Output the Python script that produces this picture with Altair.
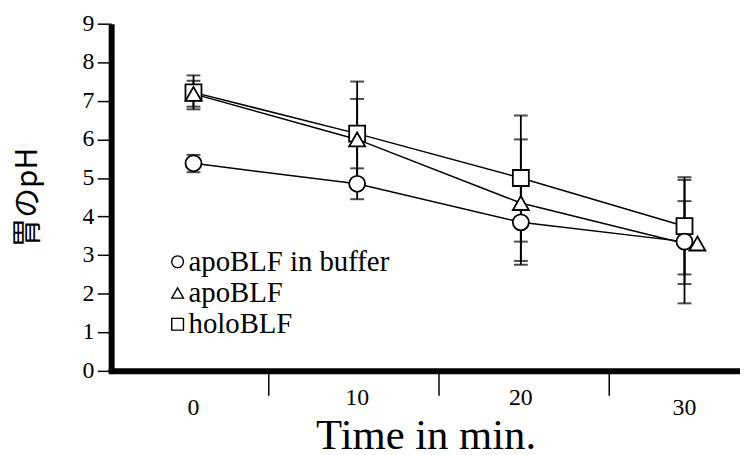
import altair as alt
import pandas as pd

times = [0, 10, 20, 30]
time_labels = ["0", "10", "20", "30"]
series_names = ["apoBLF in buffer", "apoBLF", "holoBLF"]
series_shapes = ["circle", "triangle-up", "square"]

buffer_ph = [5.38, 4.85, 3.85, 3.35]
buffer_lo = [5.15, 4.45, 2.85, 1.75]
buffer_hi = [5.60, 5.25, 4.90, 4.95]

apo_ph = [7.18, 6.00, 4.35, 3.30]
apo_lo = [6.85, 4.95, 2.75, 2.25]
apo_hi = [7.52, 7.05, 6.00, 4.40]

holo_ph = [7.22, 6.15, 5.00, 3.75]
holo_lo = [6.78, 4.80, 3.35, 2.50]
holo_hi = [7.66, 7.50, 6.62, 5.02]

boundary_ticks = [4.6, 15.0, 25.4]
y_ticks = [0, 1, 2, 3, 4, 5, 6, 7, 8, 9]

rows = []
# holoBLF drawn first, then apoBLF, then buffer (draw order)
for name, shape, ph, lo, hi in reversed(list(zip(series_names, series_shapes,
                                   [buffer_ph, apo_ph, holo_ph],
                                   [buffer_lo, apo_lo, holo_lo],
                                   [buffer_hi, apo_hi, holo_hi]))):
    for t, v, l, h in zip(times, ph, lo, hi):
        rows.append({"series": name, "shape": shape, "time": t,
                     "ph": v, "lo": l, "hi": h})
df = pd.DataFrame(rows)
bdf = pd.DataFrame({"b": boundary_ticks})
tdf = pd.DataFrame({"time": times, "label": time_labels})
ydf = pd.DataFrame({"v": y_ticks, "label": [str(v) for v in y_ticks]})
legdf = pd.DataFrame({"series": series_names, "shape": series_shapes,
                      "row": list(range(len(series_names)))})

SERIF = "Liberation Serif"

xscale = alt.Scale(domain=[-5.03, 33.39], nice=False, zero=False)
yscale = alt.Scale(domain=[0, 9], nice=False)

xaxis = alt.Axis(values=times, tickSize=0, grid=False, labels=False,
                 domainColor="black", domainWidth=6, domainCap="square",
                 title="Time in min.", titleFont=SERIF, titleFontSize=43,
                 titleFontWeight="normal", titleColor="black",
                 titleBaseline="alphabetic", titleY=78)
yaxis = alt.Axis(values=y_ticks, tickSize=14, tickWidth=1.5,
                 tickColor="black", grid=False, labels=False,
                 domainColor="black", domainWidth=6,
                 title="胃のpH", titleFont="Noto Sans CJK JP",
                 titleFontSize=30, titleFontWeight="normal",
                 titleColor="black", titleAngle=270,
                 titleX=-84, titleY=175,
                 titleAlign="center", titleBaseline="middle")

X = alt.X("time:Q", scale=xscale, axis=xaxis)
Y = alt.Y("ph:Q", scale=yscale, axis=yaxis)

base = alt.Chart(df)

lines = base.mark_line(color="black", strokeWidth=1.5).encode(
    x=X, y=Y, detail="series:N")

bars = base.mark_rule(color="black", strokeWidth=1.8).encode(
    x=X, y=alt.Y("lo:Q", scale=yscale, axis=yaxis), y2="hi:Q")

caps_lo = base.mark_tick(color="black", orient="horizontal", size=14,
                         thickness=2).encode(
    x=X, y=alt.Y("lo:Q", scale=yscale, axis=yaxis))
caps_hi = base.mark_tick(color="black", orient="horizontal", size=14,
                         thickness=2).encode(
    x=X, y=alt.Y("hi:Q", scale=yscale, axis=yaxis))

shape_enc = alt.Shape("shape:N", scale=None, legend=None)

points = base.mark_point(filled=True, fill="white", stroke="black",
                         strokeWidth=1.8, size=260, opacity=1).encode(
    x=X, y=Y, shape=shape_enc
).transform_filter(
    "!(datum.series == 'apoBLF' && datum.time == 30)")

tri_last = base.mark_point(filled=True, fill="white", stroke="black",
                           strokeWidth=1.8, size=260, opacity=1,
                           shape="triangle-up", xOffset=13).encode(
    x=X, y=Y
).transform_filter(
    "datum.series == 'apoBLF' && datum.time == 30")

bticks = alt.Chart(bdf).mark_rule(color="black", strokeWidth=1.5).encode(
    x=alt.X("b:Q", scale=xscale, axis=xaxis),
    y=alt.value(353), y2=alt.value(375))

# x tick labels: outer labels sit lower, inner ones higher (as in the original)
tl = alt.Chart(tdf)
tl_outer = tl.mark_text(font=SERIF, fontSize=24, color="black",
                        baseline="middle", align="center").encode(
    x=alt.X("time:Q", scale=xscale, axis=xaxis), y=alt.value(388),
    text="label:N").transform_filter("datum.time == 0 || datum.time == 30")
tl_inner = tl.mark_text(font=SERIF, fontSize=24, color="black",
                        baseline="middle", align="center").encode(
    x=alt.X("time:Q", scale=xscale, axis=xaxis), y=alt.value(377),
    text="label:N").transform_filter("datum.time == 10 || datum.time == 20")

# y tick labels (serif)
yl = alt.Chart(ydf).mark_text(font=SERIF, fontSize=24, color="black",
                              baseline="middle", align="right").encode(
    x=alt.value(-17), y=alt.Y("v:Q", scale=yscale, axis=yaxis),
    text="label:N")

main = alt.layer(lines, bars, caps_lo, caps_hi, points, tri_last, bticks,
                 tl_outer, tl_inner, yl)

# manual legend
leg_y = alt.Y("row:Q", scale=alt.Scale(domain=[0, 2], range=[240, 303]),
              axis=None)
leg_sym = alt.Chart(legdf).mark_point(filled=True, fill="white", stroke="black",
                                      strokeWidth=1.4, size=140, opacity=1).encode(
    x=alt.value(67), y=leg_y, shape=alt.Shape("shape:N", scale=None, legend=None))
leg_txt = alt.Chart(legdf).mark_text(align="left", baseline="middle", font=SERIF,
                                     fontSize=29, color="black").encode(
    x=alt.value(78), y=leg_y, text="series:N")

chart = alt.layer(main, leg_sym, leg_txt).resolve_scale(y="independent").properties(
    width=634, height=350,
    background="white",
    autosize=alt.AutoSizeParams(type="none"),
    padding={"left": 104, "top": 14, "right": 0, "bottom": 82},
).configure_view(stroke=None)

chart.save("out.html", embed_options={"renderer": "svg", "actions": False})
